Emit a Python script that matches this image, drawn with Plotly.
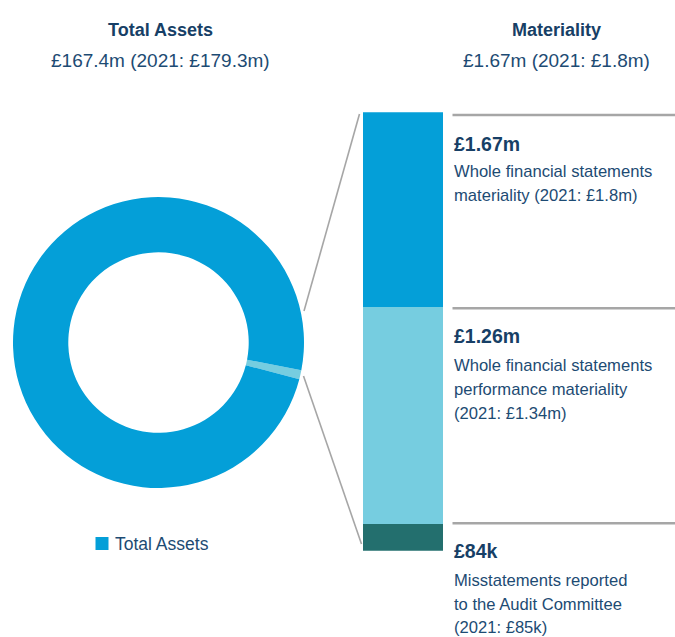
import plotly.graph_objects as go

W, H = 675, 637

# ---------------- data ----------------
pie_labels = ["Materiality", "Total Assets"]
pie_values = [1.67, 165.73]          # £m (total assets 167.4)
pie_colors = ["#76cde0", "#049fd8"]

bar_names = ["Misstatements reported", "Performance materiality", "Materiality"]
bar_heights = [0.10, 0.83, 0.74]     # segment heights as drawn
bar_colors = ["#236f6e", "#76cde0", "#049fd8"]

titles = ["Total Assets", "Materiality"]
subtitles = ["£167.4m (2021: £179.3m)", "£1.67m (2021: £1.8m)"]
value_labels = ["£1.67m", "£1.26m", "£84k"]
descriptions = [
    ["Whole financial statements", "materiality (2021: £1.8m)"],
    ["Whole financial statements", "performance materiality", "(2021: £1.34m)"],
    ["Misstatements reported", "to the Audit Committee", "(2021: £85k)"],
]
legend_label = "Total Assets"

# ---------------- helpers ----------------
def px(x):
    return x / W

def py(y):
    return 1 - y / H

NAVY = "#1d4b73"
NAVY_B = "#173f66"
GREY = "#a6a6a6"
REG = "Liberation Sans, Arial, sans-serif"

fig = go.Figure()

fig.add_trace(go.Pie(
    labels=pie_labels, values=pie_values, hole=0.62, sort=False,
    direction="clockwise", rotation=101,
    marker=dict(colors=pie_colors, line=dict(width=0)),
    textinfo="none", hoverinfo="label+value", showlegend=False,
    domain=dict(x=[px(13), px(304)], y=[py(488), py(197)]),
))

for name, h, c in zip(bar_names, bar_heights, bar_colors):
    fig.add_trace(go.Bar(
        x=["Materiality"], y=[h], name=name, marker=dict(color=c, line=dict(width=0)),
        width=1, xaxis="x", yaxis="y", showlegend=False,
    ))

total = sum(bar_heights)
fig.update_layout(
    width=W, height=H, margin=dict(l=0, r=0, t=0, b=0),
    paper_bgcolor="white", plot_bgcolor="rgba(0,0,0,0)",
    barmode="stack", bargap=0,
    xaxis=dict(domain=[px(363), px(443)], visible=False, range=[-0.5, 0.5],
               fixedrange=True),
    yaxis=dict(domain=[py(550.7), py(112.3)], visible=False, range=[0, total],
               fixedrange=True),
    showlegend=False,
)

shapes = []
# divider lines on right
for y in [115, 308.3, 523.3]:
    shapes.append(dict(type="line", xref="paper", yref="paper",
                       x0=px(452.5), x1=1.0, y0=py(y), y1=py(y),
                       line=dict(color=GREY, width=2.5)))
# connectors
shapes.append(dict(type="line", xref="paper", yref="paper",
                   x0=px(304), y0=py(311), x1=px(359.5), y1=py(114),
                   line=dict(color=GREY, width=1.6)))
shapes.append(dict(type="line", xref="paper", yref="paper",
                   x0=px(303.5), y0=py(376), x1=px(361.5), y1=py(544),
                   line=dict(color=GREY, width=1.6)))
# legend swatch
shapes.append(dict(type="rect", xref="paper", yref="paper",
                   x0=px(95.5), x1=px(108.5), y0=py(550), y1=py(537),
                   fillcolor=pie_colors[1], line=dict(width=0)))
fig.update_layout(shapes=shapes)

ann = []

def text(x, baseline, s, size, family, color, anchor="left", bold=False):
    t = f"<b>{s}</b>" if bold else s
    ann.append(dict(x=px(x), y=py(baseline - 0.36 * size), xref="paper", yref="paper",
                    text=t, showarrow=False, xanchor=anchor, yanchor="middle",
                    font=dict(size=size, family=family, color=color)))

# headers
text(160.5, 36, titles[0], 18, REG, NAVY_B, "center", True)
text(556, 36, titles[1], 18, REG, NAVY_B, "center", True)
text(160, 67, subtitles[0], 19, REG, NAVY, "center")
text(556, 67, subtitles[1], 19, REG, NAVY, "center")

# right labels
val_base = [151, 343.3, 558]
desc_base = [[177.3, 201.5], [371, 395, 419], [586.7, 610.5, 633.5]]
for v, vb, lines, db in zip(value_labels, val_base, descriptions, desc_base):
    text(452, vb, v, 19.5, REG, NAVY_B, "left", True)
    for ln, b in zip(lines, db):
        text(452, b, ln, 16.6, REG, NAVY, "left")

# legend label
text(112.5, 550.5, legend_label, 17.5, REG, NAVY, "left")

fig.update_layout(annotations=ann)
fig.write_html("out.html", config={"displayModeBar": False, "staticPlot": True})

with open("out.html", encoding="utf-8") as f:
    html = f.read()
html = html.replace("<body>", '<body style="margin:0;padding:0;overflow:hidden">', 1)
with open("out.html", "w", encoding="utf-8") as f:
    f.write(html)
